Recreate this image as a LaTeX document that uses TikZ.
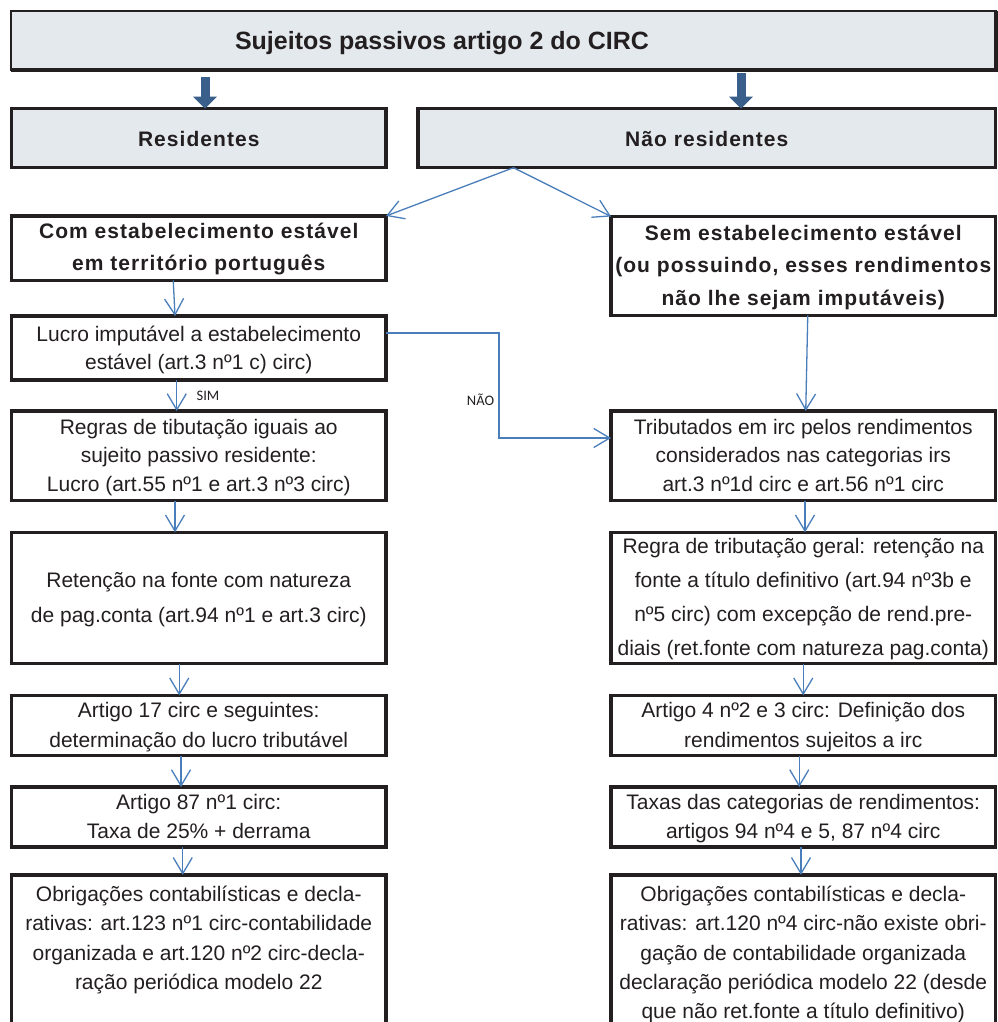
\documentclass[tikz,border=0pt]{standalone}
\usepackage{fontspec}
\setmainfont{Liberation Sans}
\newfontfamily\spacedfont[LetterSpace=5]{Liberation Sans}
\newfontfamily\labelfont{Carlito}
\usetikzlibrary{arrows.meta}
\definecolor{boxfill}{HTML}{E4E9EE}
\definecolor{ink}{HTML}{231F20}
\definecolor{darkarrow}{HTML}{3A5F8B}
\definecolor{connblue}{HTML}{4A7EBB}
\newcommand{\bx}[1]{\rule{0pt}{20.8pt}#1\rule[-7.4pt]{0pt}{7.4pt}}
\newcommand{\bxlow}[1]{\rule{0pt}{26.8pt}#1\rule[-7.4pt]{0pt}{7.4pt}}
\begin{document}
\begin{tikzpicture}[x=1pt,y=-1pt,
  box/.style={draw=ink, line width=3.5pt, rectangle, inner sep=0pt, outer sep=0pt, align=center, text=ink},
  lbox/.style={box, minimum width=374.5pt},
  rbox/.style={box, minimum width=384.5pt},
  obox/.style={box, draw=none},
  reg/.style={font=\fontsize{21}{#1}\selectfont},
  bsp/.style={font=\fontsize{21}{#1}\selectfont\spacedfont\bfseries},
  conn/.style={draw=connblue, line width=1.3pt, -{Straight Barb[length=16pt 0 0, width=19pt 0 0]}},
  bigarrow/.style={draw=darkarrow, line width=9pt, -{Triangle[length=12pt 0 0, width=23pt 0 0]}},
  lbl/.style={font=\labelfont\fontsize{14.5}{17}\selectfont, text=ink, inner sep=0pt}
]
\useasboundingbox (0,0) rectangle (997,1022);
\fill[white] (0,0) rectangle (997,1022);

% title
\node[box, fill=boxfill, line width=2.3pt, minimum width=984.4pt, minimum height=59pt] (title) at (503.5,40.5) {};
\draw[ink, line width=3.8pt] (title.south west) -- (title.south east) -- (title.north east);
\node[font=\fontsize{25}{30}\selectfont\bfseries, text=ink, inner sep=0pt, anchor=base] (titletext) at (442,49.5) {Sujeitos passivos artigo 2 do CIRC};

% residentes / nao residentes
\node[lbox, fill=boxfill, minimum height=59pt, bsp=25] (res) at (198.75,138.2) {\rule{0pt}{24.8pt}Residentes\rule[-7.4pt]{0pt}{7.4pt}};
\node[box, fill=boxfill, minimum width=577.5pt, minimum height=59pt, bsp=25] (nres) at (706.75,138.2) {\rule{0pt}{24.8pt}Não residentes\rule[-7.4pt]{0pt}{7.4pt}};

\coordinate (ax1) at (205,0);
\coordinate (ax2) at (741,0);
\draw[bigarrow, shorten <=7pt] (title.south -| ax1) -- (res.north -| ax1);
\draw[bigarrow, shorten <=3pt] (title.south -| ax2) -- (nres.north -| ax2);

% left column
\node[lbox, minimum height=64.5pt, bsp=32] (com) at (198.75,248.25) {\bx{Com estabelecimento estável\\em território português}};
\node[lbox, minimum height=64pt, reg=28] (lucro) at (198.75,348) {\rule{0pt}{22.8pt}Lucro imputável a estabelecimento\\estável (art.3 nº1 c) circ)\rule[-7.4pt]{0pt}{7.4pt}};
\node[lbox, minimum height=89.7pt, reg=28.5] (regras) at (198.75,455.85) {\bx{Regras de tibutação iguais ao\\sujeito passivo residente:\\Lucro (art.55 nº1 e art.3 nº3 circ)}};
\node[lbox, minimum height=131.4pt, reg=35] (ret) at (198.75,598) {\bx{Retenção na fonte com natureza\\de pag.conta (art.94 nº1 e art.3 circ)}};
\node[lbox, minimum height=60.2pt, reg=30] (a17) at (198.75,725.4) {\bx{Artigo 17 circ e seguintes:\\determinação do lucro tributável}};
\node[lbox, minimum height=60pt, reg=29] (a87) at (198.75,817) {\bx{Artigo 87 nº1 circ:\\Taxa de 25\% + derrama}};
\node[obox, minimum width=374.5pt, minimum height=143pt, reg=29.3] (obl) at (198.75,950.5) {\bxlow{Obrigações contabilísticas e decla-\\rativas: art.123 nº1 circ-contabilidade\\organizada e art.120 nº2 circ-decla-\\ração periódica modelo 22\\}};
\draw[ink, line width=3.5pt] (obl.south west) -- (obl.north west) -- (obl.north east) -- (obl.south east);

% right column
\node[rbox, minimum height=98.8pt, bsp=32.5] (sem) at (803.25,265.9) {\bx{Sem estabelecimento estável\\(ou possuindo, esses rendimentos\\não lhe sejam imputáveis)}};
\node[rbox, minimum height=89.7pt, reg=28.5] (trib) at (803.25,455.85) {\bx{Tributados em irc pelos rendimentos\\considerados nas categorias irs\\art.3 nº1d circ e art.56 nº1 circ}};
\node[rbox, minimum height=131.4pt, reg=34] (regra) at (803.25,598) {\bx{Regra de tributação geral: retenção na\\fonte a título definitivo (art.94 nº3b e\\nº5 circ) com excepção de rend.pre-\\diais (ret.fonte com natureza pag.conta)}};
\node[rbox, minimum height=60.2pt, reg=30] (a4) at (803.25,725.4) {\bx{Artigo 4 nº2 e 3 circ: Definição dos\\rendimentos sujeitos a irc}};
\node[rbox, minimum height=60pt, reg=29] (taxas) at (803.25,817) {\bx{Taxas das categorias de rendimentos:\\artigos 94 nº4 e 5, 87 nº4 circ}};
\node[obox, minimum width=384.5pt, minimum height=143pt, reg=29.3] (obr) at (803.25,950.5) {\bxlow{Obrigações contabilísticas e decla-\\rativas: art.120 nº4 circ-não existe obri-\\gação de contabilidade organizada\\declaração periódica modelo 22 (desde\\que não ret.fonte a título definitivo)}};
\draw[ink, line width=3.5pt] (obr.south west) -- (obr.north west) -- (obr.north east) -- (obr.south east);

% split from nao residentes
\coordinate (split) at ([xshift=-193.25pt]nres.south);
\draw[conn] (split) -- (com.north east);
\draw[conn] (split) -- (sem.north west);

% left connectors
\draw[conn] ([xshift=-25.5pt]com.south) -- ([xshift=-23.75pt]lucro.north);
\draw[conn] ([xshift=-22pt]lucro.south) -- ([xshift=-22pt]regras.north);
\draw[conn] ([xshift=-23.75pt]regras.south) -- ([xshift=-23.75pt]ret.north);
\draw[conn] ([xshift=-19.5pt]ret.south) -- ([xshift=-19.5pt]a17.north);
\draw[conn] ([xshift=-17.75pt]a17.south) -- ([xshift=-17.75pt]a87.north);
\draw[conn] ([xshift=-16pt]a87.south) -- ([xshift=-16pt]obl.north);

% right connectors
\draw[conn] ([xshift=4.5pt]sem.south) -- ([xshift=2.5pt]trib.north);
\draw[conn] ([xshift=1.75pt]trib.south) -- ([xshift=1.75pt]regra.north);
\draw[conn] (regra.south) -- (a4.north);
\draw[conn] ([xshift=-4pt]a4.south) -- ([xshift=-4pt]taxas.north);
\draw[conn] ([xshift=-2.25pt]taxas.south) -- ([xshift=-2.25pt]obr.north);

% NAO connector
\draw[conn] ([yshift=15pt]lucro.east) -- ++(113,0) |- ([yshift=17.85pt]trib.west);

\node[lbl] (sim) at (208,396) {SIM};
\node[lbl] (nao) at (480.5,400) {NÃO};
\end{tikzpicture}
\end{document}
